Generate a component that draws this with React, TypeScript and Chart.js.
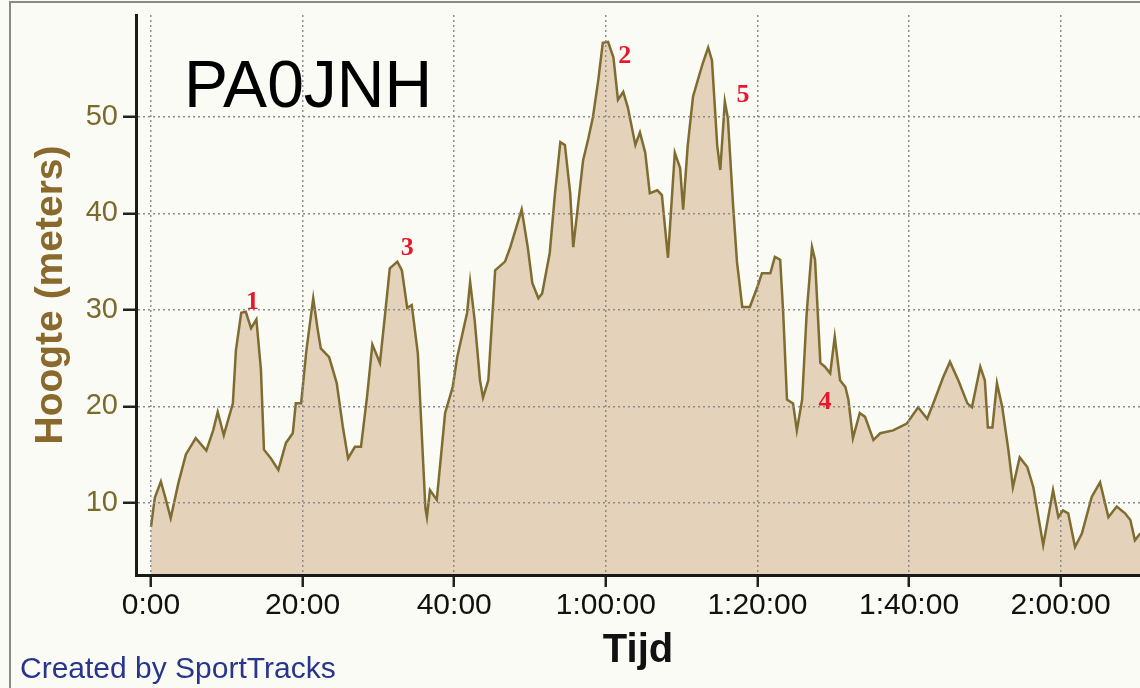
import React, { useEffect, useRef } from "react";
import { Chart, registerables } from "chart.js";

Chart.register(...registerables);

// elapsed time in minutes
const timeMin = [
  0, 0.5, 1.3, 1.9, 2.6, 3.6, 4.6, 5.9, 7.3, 8.2, 8.8, 9.6, 10.8, 11.2, 11.9, 12.5, 13.2, 13.9, 14.5, 14.9,
  15.8, 16.8, 17.8, 18.7, 19.1, 19.8, 20.5, 21.4, 22.0, 22.4, 23.5, 24.5, 25.3, 26.0, 26.9, 27.7, 28.5, 29.2,
  30.2, 30.9, 31.5, 32.5, 33.1, 33.8, 34.4, 35.2, 36.2, 36.4, 36.8, 37.7, 38.8, 39.8, 40.4, 41.7, 42.1, 42.7,
  43.4, 43.8, 44.5, 45.4, 46.7, 47.4, 48.9, 49.7, 50.3, 51.1, 51.6, 52.6, 53.3, 54.0, 54.6, 55.3, 55.7, 56.3,
  57.0, 57.7, 58.3, 59.0, 59.6, 60.3, 61.0, 61.6, 62.3, 62.9, 63.9, 64.5, 65.2, 65.8, 66.8, 67.4, 68.2, 69.1,
  69.8, 70.2, 70.8, 71.5, 72.2, 72.8, 73.5, 74.0, 74.7, 75.1, 75.7, 76.1, 76.8, 77.3, 78.0, 79.0, 80.0, 80.6,
  81.7, 82.3, 83.0, 83.4, 83.9, 84.7, 85.2, 85.9, 86.5, 87.2, 87.6, 88.3, 88.9, 89.6, 90.2, 90.9, 91.6, 92.0,
  92.6, 93.5, 94.2, 95.3, 96.2, 97.9, 99.7, 101.2, 102.4, 103.4, 104.5, 105.4, 106.5, 107.7, 108.3, 109.4,
  110.0, 110.4, 111.0, 111.6, 112.3, 113.1, 113.7, 114.6, 115.6, 116.4, 117.7, 118.3, 119.0, 119.7, 120.3,
  121.0, 121.9, 122.8, 124.1, 125.2, 126.3, 127.4, 128.5, 129.2, 129.8, 130.5,
];

// elevation in meters
const elevation = [
  7.5, 10.5, 12.2, 10.5, 8.4, 12.0, 15.0, 16.7, 15.4, 17.5, 19.4, 17.0, 20.3, 25.8, 29.7, 29.8, 28.1, 29.0, 23.8, 15.5,
  14.6, 13.4, 16.2, 17.2, 20.3, 20.3, 25.8, 31.2, 27.9, 26.0, 25.1, 22.4, 17.9, 14.6, 15.8, 15.8, 21.0, 26.4,
  24.5, 29.7, 34.3, 35.0, 34.1, 30.2, 30.5, 25.5, 9.4, 8.5, 11.3, 10.3, 19.3, 22.0, 25.1, 29.7, 32.9, 28.9,
  22.7, 20.9, 22.7, 34.1, 35.0, 36.5, 40.4, 36.5, 32.8, 31.2, 31.7, 35.9, 42.1, 47.4, 47.1, 42.1, 36.5, 40.6,
  45.5, 47.8, 50.0, 53.8, 57.7, 57.8, 56.2, 51.8, 52.6, 51.0, 47.1, 48.4, 46.3, 42.1, 42.4, 41.9, 35.4, 46.3,
  44.7, 40.4, 47.0, 52.1, 54.0, 55.6, 57.2, 55.9, 47.0, 44.5, 51.6, 49.9, 40.7, 35.0, 30.3, 30.3, 32.4, 33.8,
  33.8, 35.5, 35.2, 29.7, 20.7, 20.3, 17.5, 20.7, 29.7, 36.5, 35.2, 24.5, 24.1, 23.4, 27.2, 22.7, 22.0, 20.7,
  16.7, 19.3, 18.9, 16.5, 17.2, 17.5, 18.2, 19.9, 18.7, 20.7, 23.0, 24.6, 22.7, 20.3, 19.9, 24.1,
  22.7, 17.8, 17.8, 22.4, 19.9, 15.5, 11.6, 14.7, 13.7, 11.6, 5.6, 8.2, 11.3, 8.5, 9.2,
  8.9, 5.4, 6.8, 10.6, 12.1, 8.5, 9.6, 8.9, 8.2, 6.1, 6.8,
];

const xTickValues = [0, 20, 40, 60, 80, 100, 120];
const xTickLabels = ["0:00", "20:00", "40:00", "1:00:00", "1:20:00", "1:40:00", "2:00:00"];
const yTickValues = [10, 20, 30, 40, 50];
const yTickLabels = ["10", "20", "30", "40", "50"];

const markerLabels = ["1", "2", "3", "4", "5"];
const markerTimes = [13.4, 62.5, 33.8, 88.9, 78.1];
const markerElev = [30.8, 56.3, 36.4, 20.4, 52.3];

const chartTitle = "PA0JNH";
const creditText = "Created by SportTracks";
const xTitle = "Tijd";
const yTitle = "Hoogte (meters)";

const SANS = '"Liberation Sans", Arial, sans-serif';

const decorPlugin = {
  id: "decor",
  beforeDraw(chart: any) {
    const { ctx, width, height } = chart;
    ctx.save();
    ctx.fillStyle = "#fbfbf6";
    ctx.fillRect(0, 0, width, height);
    ctx.strokeStyle = "#8a8a8a";
    ctx.lineWidth = 2;
    ctx.beginPath();
    ctx.moveTo(10, height);
    ctx.lineTo(10, 2);
    ctx.lineTo(width, 2);
    ctx.stroke();
    ctx.restore();
  },
  afterDraw(chart: any) {
    const { ctx } = chart;
    ctx.save();
    ctx.fillStyle = "#000000";
    ctx.font = `66px ${SANS}`;
    ctx.textAlign = "left";
    ctx.textBaseline = "alphabetic";
    ctx.fillText(chartTitle, 184, 107);

    ctx.fillStyle = "#27358a";
    ctx.font = `30px ${SANS}`;
    ctx.fillText(creditText, 20, 678);

    const xs = chart.scales.x;
    const ys = chart.scales.y;
    ctx.fillStyle = "#e8182c";
    ctx.font = 'bold 26px "Liberation Serif", "Times New Roman", serif';
    ctx.textAlign = "center";
    ctx.textBaseline = "middle";
    markerLabels.forEach((lab, i) => {
      ctx.fillText(lab, xs.getPixelForValue(markerTimes[i]), ys.getPixelForValue(markerElev[i]));
    });
    ctx.restore();
  },
};

export default function App() {
  const ref = useRef<HTMLCanvasElement | null>(null);

  useEffect(() => {
    document.body.style.margin = "0";
    const canvas = ref.current;
    if (!canvas) return;
    const chart = new Chart(canvas, {
      type: "line",
      data: {
        datasets: [
          {
            data: timeMin.map((t, i) => ({ x: t, y: elevation[i] })),
            borderColor: "#7f6c30",
            borderWidth: 2.5,
            backgroundColor: "#e5d2bb",
            fill: "start",
            pointRadius: 0,
            tension: 0,
          },
        ],
      },
      options: {
        responsive: false,
        animation: false,
        events: [],
        layout: { padding: { top: 15, left: 0, right: 0, bottom: 0 } },
        plugins: {
          legend: { display: false },
          tooltip: { enabled: false },
          title: { display: false },
        },
        scales: {
          x: {
            type: "linear",
            min: -1.98,
            max: 130.47,
            afterBuildTicks: (scale: any) => {
              scale.ticks = xTickValues.map((v) => ({ value: v }));
            },
            afterFit: (scale: any) => {
              scale.height = 113;
              scale.paddingLeft = 0;
              scale.paddingRight = 0;
            },
            ticks: {
              z: 2,
              autoSkip: false,
              maxRotation: 0,
              padding: 1,
              color: "#111111",
              font: { family: SANS, size: 30 },
              callback: (v: any) => {
                const i = xTickValues.indexOf(Number(v));
                return i >= 0 ? xTickLabels[i] : "";
              },
            },
            grid: {
              z: 1,
              color: "#8c8c8c",
              lineWidth: 1.5,
              drawTicks: true,
              tickLength: 12,
              tickColor: "#222222",
              tickWidth: 2.5,
              tickBorderDash: [],
            },
            border: { z: 2, display: true, color: "#1a1a1a", width: 3, dash: [2, 3] },
            title: {
              display: true,
              text: xTitle,
              color: "#111111",
              font: { family: SANS, size: 40, weight: "bold" },
              padding: { top: 0, bottom: 13 },
            },
          },
          y: {
            type: "linear",
            min: 2.5,
            max: 60.58,
            afterBuildTicks: (scale: any) => {
              scale.ticks = yTickValues.map((v) => ({ value: v }));
            },
            afterFit: (scale: any) => {
              scale.width = 136;
              scale.paddingTop = 0;
              scale.paddingBottom = 0;
            },
            ticks: {
              z: 2,
              padding: 5,
              color: "#7a6a2c",
              font: { family: SANS, size: 29 },
              callback: (v: any) => {
                const i = yTickValues.indexOf(Number(v));
                return i >= 0 ? yTickLabels[i] : "";
              },
            },
            grid: {
              z: 1,
              color: "#8c8c8c",
              lineWidth: 1.5,
              drawTicks: true,
              tickLength: 13,
              tickColor: "#222222",
              tickWidth: 2.5,
              tickBorderDash: [],
            },
            border: { z: 2, display: true, color: "#1a1a1a", width: 3, dash: [2, 3] },
            title: {
              display: true,
              text: yTitle,
              color: "#8a692c",
              font: { family: SANS, size: 39, weight: "bold" },
              padding: { top: 28, bottom: 0 },
            },
          },
        },
      },
      plugins: [decorPlugin],
    } as any);
    return () => chart.destroy();
  }, []);

  return (
    <div style={{ position: "fixed", left: 0, top: 0, width: 1140, height: 688 }}>
      <canvas ref={ref} width={1140} height={688} style={{ display: "block", width: 1140, height: 688 }} />
    </div>
  );
}
